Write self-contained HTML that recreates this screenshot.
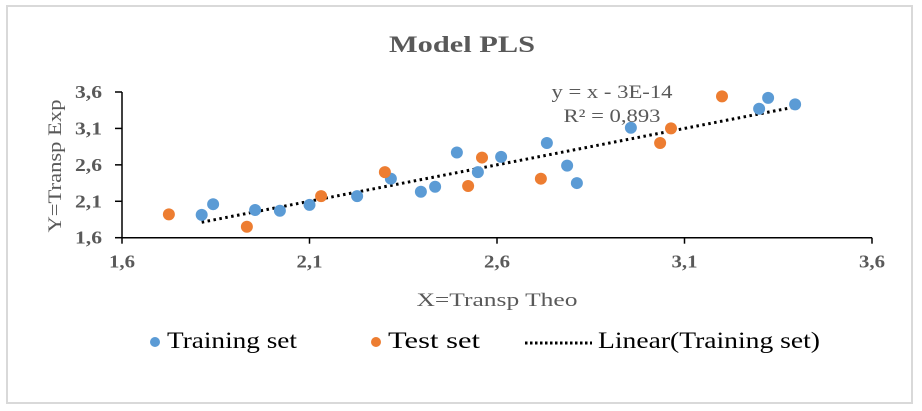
<!DOCTYPE html>
<html><head><meta charset="utf-8"><style>
html,body{margin:0;padding:0;background:#fff;}
svg{display:block;font-family:"Liberation Serif",serif;}
</style></head><body>
<svg id="chart" width="922" height="411">
<rect x="7" y="6" width="905" height="397" fill="#fff" stroke="#d9d9d9" stroke-width="2"/>
<text x="462" y="52" text-anchor="middle" font-size="23" font-weight="bold" fill="#595959" textLength="146" lengthAdjust="spacingAndGlyphs">Model PLS</text>
<g id="axes"></g>
<g id="marks"></g>
<text x="612" y="98" text-anchor="middle" font-size="19" fill="#595959" textLength="121" lengthAdjust="spacingAndGlyphs">y = x - 3E-14</text>
<text x="612" y="122" text-anchor="middle" font-size="19" fill="#595959" textLength="97" lengthAdjust="spacingAndGlyphs">R² = 0,893</text>
<text x="497" y="306" text-anchor="middle" font-size="19" fill="#595959" textLength="161" lengthAdjust="spacingAndGlyphs">X=Transp Theo</text>
<text transform="translate(61,166) rotate(-90)" text-anchor="middle" font-size="19" fill="#595959" textLength="133" lengthAdjust="spacingAndGlyphs">Y=Transp Exp</text>
<g>
<g><circle cx="155" cy="342" r="5" fill="#5b9bd5"/><text x="167" y="348" font-size="23" fill="#000" textLength="130" lengthAdjust="spacingAndGlyphs">Training set</text></g>
<g><circle cx="376" cy="342" r="5" fill="#ed7d31"/><text x="388" y="348" font-size="23" fill="#000" textLength="92" lengthAdjust="spacingAndGlyphs">Test set</text></g>
<g><line x1="525" y1="343" x2="592" y2="343" stroke="#000" stroke-width="3" stroke-dasharray="2.5,2.5"/><text x="598" y="348" font-size="23" fill="#000" textLength="222" lengthAdjust="spacingAndGlyphs">Linear(Training set)</text></g>
</g>
</svg>
<script>
const trainX=[1.8125,1.843,1.955,2.021,2.10,2.227,2.317,2.397,2.435,2.493,2.549,2.611,2.733,2.787,2.813,2.957,3.299,3.323,3.395];
const trainY=[1.913,2.06,1.98,1.97,2.05,2.17,2.41,2.23,2.30,2.77,2.50,2.71,2.90,2.59,2.35,3.11,3.37,3.52,3.43];
const testX=[1.725,1.933,2.131,2.301,2.523,2.56,2.717,3.035,3.064,3.20];
const testY=[1.92,1.75,2.17,2.50,2.31,2.70,2.41,2.90,3.10,3.54];
const xTicks=[1.6,2.1,2.6,3.1,3.6];
const yTicks=[1.6,2.1,2.6,3.1,3.6];
const xTickLabels=["1,6","2,1","2,6","3,1","3,6"];
const yTickLabels=["1,6","2,1","2,6","3,1","3,6"];
const trendSlope=1, trendIntercept=0;

const NS="http://www.w3.org/2000/svg";
const X0=122,X1=872,Y0=237.7,Y1=92;
const sx=v=>X0+(v-1.6)/2*(X1-X0);
const sy=v=>Y0-(v-1.6)/2*(Y0-Y1);
function mk(tag,attrs,parent){const e=document.createElementNS(NS,tag);for(const k in attrs)e.setAttribute(k,attrs[k]);parent.appendChild(e);return e;}
const axes=document.getElementById('axes'),marks=document.getElementById('marks');
let a=mk('line',{x1:X0,y1:Y0,x2:X1,y2:Y0,stroke:'#000','stroke-width':1.5},axes);


a=mk('line',{x1:X0,y1:Y0,x2:X0,y2:Y1,stroke:'#000','stroke-width':1.5},axes);


xTicks.forEach((v,i)=>{
 mk('line',{x1:sx(v),y1:Y0,x2:sx(v),y2:Y0+6,stroke:'#000','stroke-width':1.5},axes);
 const t=mk('text',{x:sx(v),y:Y0+30,'text-anchor':'middle','font-size':18,'font-weight':'bold',fill:'#595959',textLength:26,lengthAdjust:'spacingAndGlyphs'},axes);
 t.textContent=xTickLabels[i];
 
 
});
yTicks.forEach((v,i)=>{
 mk('line',{x1:X0-7,y1:sy(v),x2:X0,y2:sy(v),stroke:'#000','stroke-width':1.5},axes);
 const t=mk('text',{x:X0-20,y:sy(v)+6,'text-anchor':'end','font-size':18,'font-weight':'bold',fill:'#595959',textLength:27,lengthAdjust:'spacingAndGlyphs'},axes);
 t.textContent=yTickLabels[i];
 
 
});
const xmin=Math.min(...trainX),xmax=Math.max(...trainX);
const tl=mk('line',{x1:sx(xmin),y1:sy(trendSlope*xmin+trendIntercept),x2:sx(xmax),y2:sy(trendSlope*xmax+trendIntercept),stroke:'#000','stroke-width':3,'stroke-dasharray':'2.5,3.5'},marks);


trainX.forEach((v,i)=>{
 const c=mk('circle',{cx:sx(v),cy:sy(trainY[i]),r:6,fill:'#5b9bd5'},marks);
 
 
});
testX.forEach((v,i)=>{
 const c=mk('circle',{cx:sx(v),cy:sy(testY[i]),r:6,fill:'#ed7d31'},marks);
 
 
});
</script>
</body></html>
